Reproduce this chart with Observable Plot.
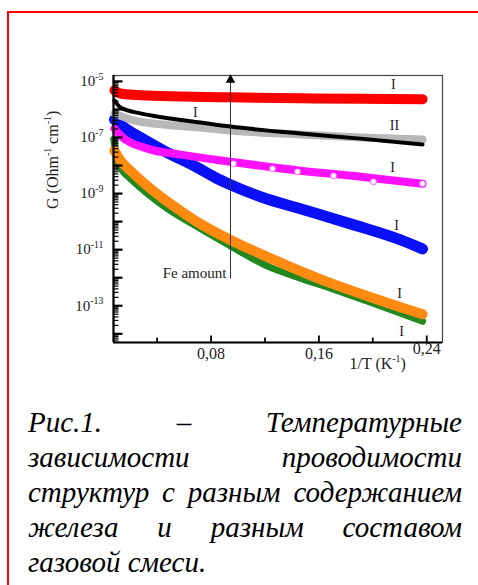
<!DOCTYPE html>
<html>
<head>
<meta charset="utf-8">
<script src="https://cdn.jsdelivr.net/npm/d3@7"></script>
<script src="https://cdn.jsdelivr.net/npm/@observablehq/plot@0.6"></script>
<style>
  html, body { margin: 0; padding: 0; background: #fff; }
  body { width: 478px; height: 585px; overflow: hidden; position: relative; font-family: "Liberation Serif", serif; }
  #border { position: absolute; left: 7px; top: 11px; width: 1000px; height: 1000px;
            border-top: 2px solid #f00; border-left: 2px solid #f00; z-index: 5; pointer-events: none; }
  #chart { position: absolute; left: 0; top: 0; }
  #caption { position: absolute; left: 28px; top: 405px; width: 434px;
             font-family: "Liberation Serif", serif; font-style: italic; font-size: 29px; line-height: 35px; color: #000; }
  #caption div { text-align: justify; text-align-last: justify; white-space: nowrap; }
  #caption div.last { text-align-last: left; }
</style>
</head>
<body>
<div id="border"></div>
<div id="chart"></div>
<div id="caption">
  <div>Рис.1. &nbsp;&nbsp;&nbsp;&nbsp; – &nbsp;&nbsp;&nbsp;&nbsp; Температурные</div>
  <div>зависимости &nbsp;&nbsp; проводимости</div>
  <div>структур с разным содержанием</div>
  <div>железа и разным составом</div>
  <div class="last">газовой смеси.</div>
</div>
<script>
// ---- data ----
const redX = [0.0083, 0.0128, 0.0276, 0.0573, 0.0944, 0.1463, 0.1909, 0.2369];
const redG = [4.8e-6, 3.7e-6, 3.2e-6, 2.9e-6, 2.7e-6, 2.5e-6, 2.4e-6, 2.3e-6];

const blackX = [0.0083, 0.0128, 0.0276, 0.0447, 0.0721, 0.0944, 0.1463, 0.1909, 0.2369];
const blackG = [2.1e-6, 1.17e-6, 7.2e-7, 5.15e-7, 3.41e-7, 2.45e-7, 1.38e-7, 9.1e-8, 5.6e-8];

const grayX = [0.0083, 0.0202, 0.0447, 0.0721, 0.0944, 0.1463, 0.1909, 0.2369];
const grayG = [7.2e-7, 4.37e-7, 2.89e-7, 2.26e-7, 1.77e-7, 1.27e-7, 9.9e-8, 8.4e-8];

const magentaX = [0.0083, 0.0128, 0.0328, 0.0573, 0.0944, 0.1463, 0.1909, 0.2369];
const magentaG = [2.08e-7, 1.17e-7, 4.0e-8, 2.44e-8, 1.37e-8, 6.5e-9, 4.0e-9, 2.24e-9];

const magentaOpenX = [0.0966, 0.1256, 0.1441, 0.1708, 0.2005, 0.2369];
const magentaOpenG = [1.16e-8, 7.7e-9, 6.0e-9, 4.3e-9, 2.64e-9, 2.24e-9];

const blueX = [0.0083, 0.0165, 0.0276, 0.0447, 0.0699, 0.0833, 0.0944, 0.1167, 0.1463, 0.1834, 0.2206, 0.2369];
const blueG = [4.37e-7, 2.08e-7, 9.9e-8, 3.4e-8, 8.4e-9, 3.67e-9, 2.06e-9, 7.7e-10, 2.86e-10, 8.3e-11, 2.22e-11, 1.06e-11];

const orangeX = [0.0083, 0.0128, 0.0202, 0.0447, 0.0573, 0.0721, 0.0944, 0.1219, 0.1463, 0.1708, 0.1961, 0.2206, 0.2369];
const orangeG = [3.4e-8, 1.49e-8, 6.5e-9, 6.5e-10, 2.43e-10, 8.3e-11, 2.22e-11, 5.5e-12, 1.73e-12, 5.9e-13, 2.2e-13, 8.9e-14, 5.0e-14];

const greenX = [0.0078, 0.0105, 0.0142, 0.0202, 0.0447, 0.0699, 0.0944, 0.1219, 0.1463, 0.1708, 0.1961, 0.2206, 0.2369];
const greenG = [8.5e-8, 1.49e-8, 6.5e-9, 3.4e-9, 3.66e-10, 6.5e-11, 1.36e-11, 2.6e-12, 9.7e-13, 3.9e-13, 1.46e-13, 5.4e-14, 2.8e-14];

const curveLabels = ["I", "II", "I", "I", "I", "I", "I"];
const curveLabelX = [0.2153, 0.2161, 0.2146, 0.2176, 0.2198, 0.2213, 0.0684];
const curveLabelG = [7.8e-6, 2.67e-7, 8.4e-9, 7.0e-11, 2.8e-13, 1.23e-14, 7.8e-7];

const arrowX = [0.0944];
const arrowG = [9.0e-13, 1.45e-5];
const arrowText = "Fe amount";
const arrowTextX = [0.0914];
const arrowTextG = [1.48e-12];

const xDomain = [0.0076, 0.2517];
const yDomain = [4.9e-15, 1.62e-5];
const xTicksLabeled = [0.08, 0.16];
const xTickLast = [0.24];
const xTicksMajor = [0.08, 0.16, 0.24];
const xTicksMinor = [0.04, 0.12, 0.20];
const yTicksLabeled = [1e-5, 1e-7, 1e-9, 1e-11, 1e-13];
const yTicksMajor = [1e-5, 1e-6, 1e-7, 1e-8, 1e-9, 1e-10, 1e-11, 1e-12, 1e-13, 1e-14];
const yTicksMinor = [];
for (let e = -15; e <= -5; e++) for (let k = 2; k <= 9; k++) {
  const v = k * Math.pow(10, e);
  if (v > yDomain[0] && v < yDomain[1]) yTicksMinor.push(v);
}
const xLabel = "1/T (K^{-1})";
const xLabelX = [0.2036];
const yLabel = "G (Ohm^{-1} cm^{-1})";

// ---- series table ----
const zip = (xs, gs) => xs.map((x, i) => ({x, g: gs[i]}));
const series = [
  {data: zip(greenX, greenG), color: "#23891f", width: 7},
  {data: zip(orangeX, orangeG), color: "#ff8a12", width: 10},
  {data: zip(blueX, blueG), color: "#0a10f5", width: 11},
  {data: zip(magentaX, magentaG), color: "#ff10ff", width: 8},
  {data: zip(grayX, grayG), color: "#b8b8b8", width: 8},
  {data: zip(blackX, blackG), color: "#000000", width: 4},
  {data: zip(redX, redG), color: "#ff0000", width: 10}
];

const fmtX = d => d.toFixed(2).replace(".", ",");
const fmtY = d => "10^{" + Math.round(Math.log10(d)) + "}";

// inward tick glyphs as custom dot symbols: right-pointing (y ticks) or up-pointing (x ticks) segments
const hSeg = len => ({draw(ctx) { ctx.moveTo(0, 0); ctx.lineTo(len, 0); }});
const vSeg = len => ({draw(ctx) { ctx.moveTo(0, 0); ctx.lineTo(0, -len); }});
const yTick = (values, len, sw) => Plot.dot(values, {x: () => xDomain[0], y: d => d, r: 4, symbol: hSeg(len),
  fill: "none", stroke: "#000", strokeWidth: sw});
const xTick = (values, len, sw) => Plot.dot(values, {x: d => d, y: () => yDomain[0], r: 4, symbol: vSeg(len),
  fill: "none", stroke: "#000", strokeWidth: sw});

const plot = Plot.plot({
  width: 478,
  height: 385,
  marginLeft: 113,
  marginRight: 36,
  marginTop: 75,
  marginBottom: 43,
  style: {fontFamily: "Liberation Serif", fontSize: "15px", background: "transparent", color: "#000", overflow: "visible"},
  x: {domain: xDomain},
  y: {type: "log", domain: yDomain},
  marks: [
    Plot.frame({stroke: "#444", strokeWidth: 1.2}),
    ...series.map(s => Plot.line(s.data, {x: "x", y: "g", stroke: s.color, strokeWidth: s.width,
      curve: "monotone-x", strokeLinecap: "round", strokeLinejoin: "round"})),
    Plot.dot(zip(magentaOpenX, magentaOpenG), {x: "x", y: "g", r: 3, fill: "#fff", stroke: "#ff60ff", strokeWidth: 1}),
    Plot.ruleX(arrowX, {x: d => d, y1: arrowG[0], y2: arrowG[1], stroke: "#333", strokeWidth: 1}),
    Plot.dot(arrowX, {x: d => d, y: arrowG[1], symbol: "triangle", r: 3.6, fill: "#000", stroke: "none", dy: 3}),
    Plot.text([arrowText], {x: arrowTextX, y: arrowTextG, textAnchor: "end", fontSize: 15, fill: "#222"}),
    Plot.text(curveLabels, {x: curveLabelX, y: curveLabelG, fontSize: 14, fill: "#222"}),
    yTick(yTicksMajor, 9, 2.2),
    yTick(yTicksMinor, 5, 1.2),
    xTick(xTicksMajor, 7, 1.8),
    xTick(xTicksMinor, 5, 1.8),
    Plot.ruleX([xDomain[0]], {stroke: "#000", strokeWidth: 2.2}),
    Plot.ruleY([yDomain[0]], {stroke: "#000", strokeWidth: 2.2}),
    Plot.axisY({anchor: "left", ticks: yTicksLabeled, tickSize: 0, tickPadding: 10, tickFormat: fmtY, label: null, fontSize: 15, fill: "#222"}),
    Plot.axisX({anchor: "bottom", ticks: xTicksLabeled, tickSize: 0, tickPadding: 5, tickFormat: fmtX, label: null, fontSize: 16, fill: "#222"}),
    Plot.axisX({anchor: "bottom", ticks: xTickLast, tickSize: 0, tickPadding: 0, tickFormat: fmtX, label: null, fontSize: 16, fill: "#222"}),
    Plot.text([xLabel], {x: xLabelX, frameAnchor: "bottom", dy: 26, fontSize: 16, fill: "#222"}),
    Plot.text([yLabel], {frameAnchor: "left", dx: -61, rotate: -90, fontSize: 16, fill: "#222"})
  ]
});

// superscripts: turn "a^{b}c" into tspans
const NS = "http://www.w3.org/2000/svg";
plot.querySelectorAll("text").forEach(t => {
  const s = t.textContent;
  if (!s.includes("^{")) return;
  const fs = parseFloat(t.getAttribute("font-size")) || parseFloat(getComputedStyle(t).fontSize) || 15;
  const parts = [];
  const re = /\^\{([^}]*)\}/g;
  let last = 0, m;
  while ((m = re.exec(s))) { parts.push([s.slice(last, m.index), false]); parts.push([m[1], true]); last = re.lastIndex; }
  parts.push([s.slice(last), false]);
  t.textContent = "";
  let raised = false;
  for (const [txt, isSup] of parts) {
    if (!txt) continue;
    const ts = document.createElementNS(NS, "tspan");
    ts.textContent = txt;
    if (isSup) {
      ts.setAttribute("font-size", (fs * 0.66) + "px");
      if (!raised) ts.setAttribute("dy", (-fs * 0.42) + "px");
      raised = true;
    } else if (raised) {
      ts.setAttribute("dy", (fs * 0.42) + "px");
      raised = false;
    }
    t.appendChild(ts);
  }
});

document.getElementById("chart").appendChild(plot);
</script>
</body>
</html>
